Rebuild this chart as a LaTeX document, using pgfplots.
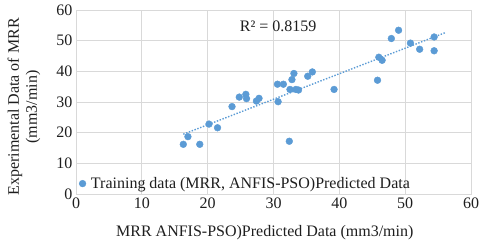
\documentclass[border=0pt]{standalone}
\usepackage{pgfplots}
\pgfplotsset{compat=1.18}
\usepackage{fontspec}
\setmainfont{Liberation Serif}
\definecolor{pt}{RGB}{91,155,213}
\definecolor{grd}{RGB}{217,217,217}
\definecolor{txt}{RGB}{30,30,30}
\begin{document}
\begin{tikzpicture}
\useasboundingbox (-76bp,-50bp) rectangle (404bp,194bp);
\begin{axis}[
  at={(0,0)}, anchor=south west,
  scale only axis, width=395bp, height=184bp,
  xmin=0, xmax=60, ymin=0, ymax=60,
  xtick={0,10,...,60}, ytick={0,10,...,60},
  grid=major, major grid style={grd, line width=0.8bp},
  axis line style={grd, line width=0.8bp}, tick style={draw=none},
  ticklabel style={font=\fontsize{16bp}{18bp}\selectfont, text=txt},
  /pgf/number format/assume math mode=true,
  xlabel={MRR ANFIS-PSO)Predicted Data (mm3/min)},
  ylabel={Experimental Data of MRR\\(mm3/min)},
  ylabel style={align=center, font=\fontsize{16bp}{18bp}\selectfont, text=txt,
    at={(axis description cs:-0.132,0.473)}, anchor=center},
  xlabel style={font=\fontsize{16bp}{18bp}\selectfont, text=txt,
    at={(axis description cs:0.478,-0.212)}, anchor=center},
  legend style={at={(axis description cs:0.005,0.005)}, anchor=south west, draw=none, fill=none,
    font=\fontsize{16bp}{18bp}\selectfont, text=txt, inner sep=1bp, column sep=3bp},
  legend cell align=left,
]
\addplot[only marks, mark=*, mark size=3.4bp, mark options={draw=pt, fill=pt}] coordinates {
(16.3,16.2) (17.0,18.7) (18.8,16.2) (20.2,22.8) (21.5,21.6) (23.7,28.5)
(24.8,31.6) (25.8,32.5) (25.9,31.1) (27.4,30.3) (27.8,31.2) (30.6,35.8)
(31.5,35.8) (30.7,30.1) (32.4,17.2) (32.5,34.1) (32.8,37.3) (33.1,39.3)
(33.4,34.1) (33.8,33.9) (35.2,38.4) (35.9,39.8) (39.2,34.1) (45.8,37.1)
(46.0,44.6) (46.5,43.6) (47.9,50.7) (49.0,53.4) (50.8,49.2) (52.2,47.2)
(54.4,51.2) (54.4,46.7)
};
\addlegendentry{Training data (MRR, ANFIS-PSO)Predicted Data}
\addplot[forget plot, pt, line width=1.4bp, dash pattern=on 1.4bp off 1.6bp] coordinates {(16.3,19.5) (56.2,52.7)};
\node[font=\fontsize{16bp}{18bp}\selectfont, text=txt] at (axis cs:30.7,54.7) {R² = 0.8159};
\end{axis}
\end{tikzpicture}
\end{document}
